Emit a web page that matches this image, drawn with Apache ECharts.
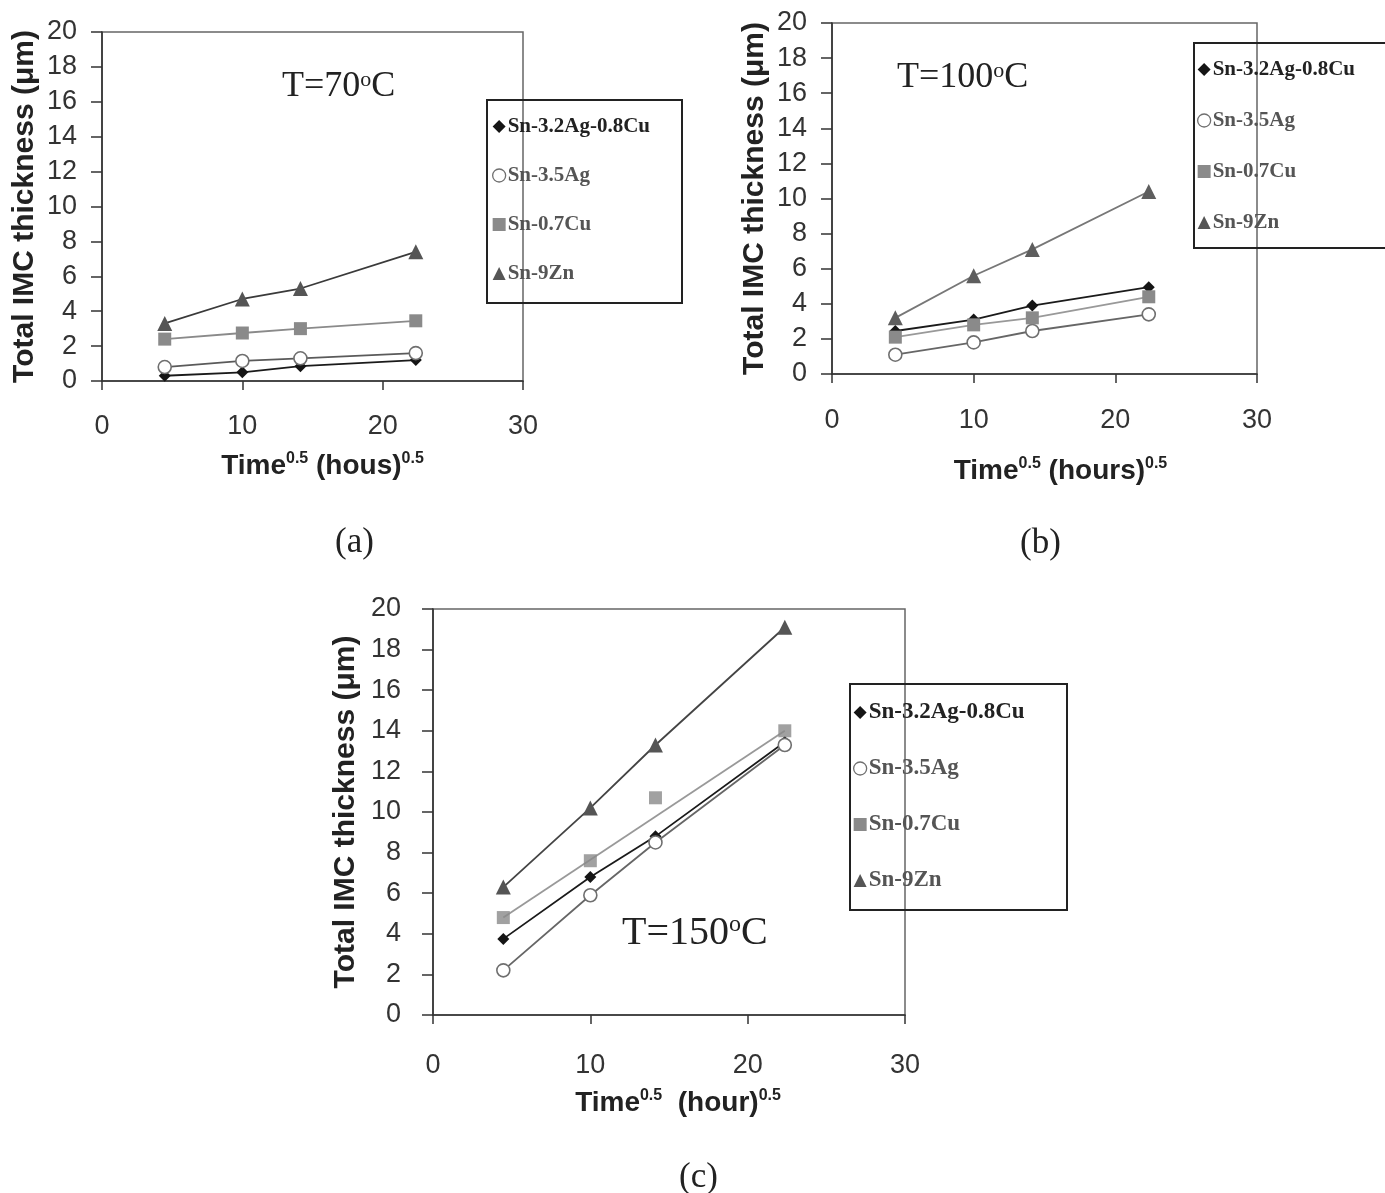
<!DOCTYPE html>
<html><head><meta charset="utf-8">
<script src="https://cdn.jsdelivr.net/npm/echarts@6/dist/echarts.min.js"></script>
<style>html,body{margin:0;padding:0;background:#fff}#c{width:1385px;height:1193px}</style>
</head><body><div id="c"></div>
<script>
// ---- data ----
const names = ['Sn-3.2Ag-0.8Cu', 'Sn-3.5Ag', 'Sn-0.7Cu', 'Sn-9Zn'];
const xVals = [4.47, 10, 14.14, 22.36];           // time^0.5 (hours^0.5)
const xTicks = [0, 10, 20, 30];
const yTicks = [0, 2, 4, 6, 8, 10, 12, 14, 16, 18, 20];

// (a) T=70C
const a_SAC  = [0.3, 0.5, 0.85, 1.2];
const a_SnAg = [0.8, 1.15, 1.3, 1.6];
const a_SnCu = [2.4, 2.75, 3.0, 3.45];
const a_SnZn = [3.3, 4.7, 5.3, 7.4];
// (b) T=100C
const b_SAC  = [2.45, 3.1, 3.9, 4.95];
const b_SnAg = [1.1, 1.8, 2.45, 3.4];
const b_SnCu = [2.1, 2.8, 3.2, 4.4];
const b_SnZn = [3.2, 5.6, 7.1, 10.4];
// (c) T=150C
const c_SAC  = [3.75, 6.8, 8.8, 13.45];
const c_SnAg = [2.2, 5.9, 8.5, 13.3];
const c_SnCu = [4.8, 7.6, 10.7, 14.0];
const c_SnZn = [6.3, 10.2, 13.3, 19.1];
// trend line drawn for Sn-0.7Cu in (c) (point at 14.14 lies off it)
const c_SnCu_lineX = [4.47, 22.36];
const c_SnCu_lineY = [4.8, 14.0];

// ---- helpers ----
const pairs = (xs, ys) => xs.map((x, i) => [x, ys[i]]);
const serif = 'Liberation Serif';
const sans = 'Liberation Sans';

const sty = {
  'Sn-3.2Ag-0.8Cu': {symbol: 'diamond', size: 12, color: '#151515', line: '#1a1a1a', border: null},
  'Sn-3.5Ag': {symbol: 'circle', size: 13, color: '#ffffff', line: '#5a5a5a', border: '#6f6f6f'},
  'Sn-0.7Cu': {symbol: 'rect', size: 13, color: '#8a8a8a', line: '#8a8a8a', border: null},
  'Sn-9Zn': {symbol: 'triangle', size: 15, color: '#555555', line: '#3a3a3a', border: null}
};

function lineSeries(name, gi, data, opts) {
  const s = sty[name];
  opts = opts || {};
  return {
    type: 'line', name: name, xAxisIndex: gi, yAxisIndex: gi,
    data: data, symbol: opts.noSymbol ? 'none' : s.symbol, symbolSize: s.size,
    showSymbol: !opts.noSymbol,
    lineStyle: {color: opts.lineColor || s.line, width: 1.8},
    itemStyle: {color: opts.markColor || s.color, borderColor: s.border || (opts.markColor || s.color), borderWidth: s.border ? 1.6 : 0},
    z: opts.z || 3, animation: false, silent: true
  };
}
function scatterSeries(name, gi, data, opts) {
  const s = sty[name];
  opts = opts || {};
  return {
    type: 'scatter', name: name, xAxisIndex: gi, yAxisIndex: gi,
    data: data, symbol: s.symbol, symbolSize: s.size,
    itemStyle: {color: opts.markColor || s.color, borderColor: s.border || (opts.markColor || s.color), borderWidth: s.border ? 1.6 : 0},
    z: 4, animation: false, silent: true
  };
}

const grids = [
  {left: 102, top: 32, width: 421, height: 349},
  {left: 832, top: 23, width: 425, height: 351},
  {left: 433, top: 609, width: 472, height: 406}
];
const xNames = [
  'Time{sup|0.5} (hous){sup|0.5}',
  'Time{sup|0.5} (hours){sup|0.5}',
  'Time{sup|0.5}  (hour){sup|0.5}'
];
const yNameGap = [62, 62, 72];
const xNameGap = [70, 82, 73];
const xNamePadL = [20, 32, 18];
const xLabelMargin = [32, 33, 37];
const yLabelMargin = [25, 25, 32];

const xAxes = grids.map((g, i) => ({
  type: 'value', gridIndex: i, min: xTicks[0], max: xTicks[xTicks.length - 1], interval: xTicks[1] - xTicks[0],
  name: xNames[i], nameLocation: 'middle', nameGap: xNameGap[i],
  nameTextStyle: {fontFamily: sans, fontWeight: 'bold', fontSize: 28, color: '#222', padding: [0, 0, 0, xNamePadL[i]],
    rich: {sup: {fontFamily: sans, fontWeight: 'bold', fontSize: 16, color: '#222', verticalAlign: 'top', padding: [0, 0, 14, 0]}}},
  axisLine: {show: true, lineStyle: {color: '#333', width: 1.6}},
  axisTick: {show: true, inside: false, length: 9, lineStyle: {color: '#333', width: 1.5}},
  axisLabel: {fontFamily: sans, fontSize: 27, color: '#333', margin: xLabelMargin[i]},
  splitLine: {show: false}
}));
const yAxes = grids.map((g, i) => ({
  type: 'value', gridIndex: i, min: yTicks[0], max: yTicks[yTicks.length - 1], interval: yTicks[1] - yTicks[0],
  name: 'Total IMC thickness (μm)', nameLocation: 'middle', nameGap: yNameGap[i], nameRotate: 90,
  nameTextStyle: {fontFamily: sans, fontWeight: 'bold', fontSize: 30, color: '#222'},
  axisLine: {show: true, lineStyle: {color: '#333', width: 1.6}},
  axisTick: {show: true, inside: false, length: 11, lineStyle: {color: '#333', width: 1.5}},
  axisLabel: {fontFamily: sans, fontSize: 27, color: '#333', margin: yLabelMargin[i]},
  splitLine: {show: false}
}));

const series = [
  // (a)
  lineSeries('Sn-3.2Ag-0.8Cu', 0, pairs(xVals, a_SAC)),
  lineSeries('Sn-3.5Ag', 0, pairs(xVals, a_SnAg)),
  lineSeries('Sn-0.7Cu', 0, pairs(xVals, a_SnCu)),
  lineSeries('Sn-9Zn', 0, pairs(xVals, a_SnZn)),
  // (b)
  lineSeries('Sn-3.2Ag-0.8Cu', 1, pairs(xVals, b_SAC)),
  lineSeries('Sn-3.5Ag', 1, pairs(xVals, b_SnAg), {lineColor: '#666'}),
  lineSeries('Sn-0.7Cu', 1, pairs(xVals, b_SnCu), {lineColor: '#999'}),
  lineSeries('Sn-9Zn', 1, pairs(xVals, b_SnZn), {lineColor: '#777', markColor: '#5e5e5e'}),
  // (c)
  lineSeries('Sn-3.2Ag-0.8Cu', 2, pairs(xVals, c_SAC)),
  lineSeries('Sn-3.5Ag', 2, pairs(xVals, c_SnAg), {lineColor: '#666'}),
  lineSeries('Sn-0.7Cu', 2, pairs(c_SnCu_lineX, c_SnCu_lineY), {noSymbol: true, lineColor: '#999'}),
  scatterSeries('Sn-0.7Cu', 2, pairs(xVals, c_SnCu)),
  lineSeries('Sn-9Zn', 2, pairs(xVals, c_SnZn), {lineColor: '#444'})
];

function legendData() {
  return names.map((n, i) => {
    const s = sty[n];
    return {
      name: n, icon: s.symbol,
      itemStyle: {color: s.color, borderColor: s.border || s.color, borderWidth: s.border ? 1.3 : 0},
      textStyle: {color: i === 0 ? '#222' : '#555'}
    };
  });
}
const legends = [
  {left: 492, top: 116, itemGap: 28, fs: 21},
  {left: 1197, top: 59, itemGap: 30, fs: 21},
  {left: 853, top: 701, itemGap: 33, fs: 23}
].map(l => ({
  orient: 'vertical', left: l.left, top: l.top, itemGap: l.itemGap,
  itemWidth: 13, itemHeight: 13, padding: 0, selectedMode: false,
  data: legendData(),
  textStyle: {fontFamily: serif, fontSize: l.fs, fontWeight: 'bold', padding: [0, 0, 0, -3]}
}));

const titles = [
  {text: 'T=70{sup|o}C', left: 282, top: 69, fs: 36, sup: 22},
  {text: 'T=100{sup|o}C', left: 897, top: 60, fs: 36, sup: 22},
  {text: 'T=150{sup|o}C', left: 622, top: 913, fs: 40, sup: 24},
  {text: '(a)', left: 335, top: 525, fs: 35, sup: 20},
  {text: '(b)', left: 1020, top: 526, fs: 35, sup: 20},
  {text: '(c)', left: 679, top: 1160, fs: 35, sup: 20}
].map(t => ({
  text: t.text, left: t.left, top: t.top, padding: 0,
  textStyle: {fontFamily: serif, fontWeight: 'normal', fontSize: t.fs, color: '#222',
    rich: {sup: {fontFamily: serif, fontSize: t.sup, color: '#222', verticalAlign: 'top', padding: [0, 0, Math.round(t.fs * 0.4), 0]}}}
}));

const chart = echarts.init(document.getElementById('c'), null, {renderer: 'canvas'});
chart.setOption({
  backgroundColor: '#fff',
  animation: false,
  title: titles,
  grid: grids.map(g => Object.assign({show: true, borderColor: '#666', borderWidth: 1.5, backgroundColor: '#fff', containLabel: false}, g)),
  xAxis: xAxes,
  yAxis: yAxes,
  legend: legends,
  graphic: [
    {type: 'rect', shape: {x: 487, y: 100, width: 195, height: 203}, style: {fill: 'rgba(0,0,0,0)', stroke: '#222', lineWidth: 2}, z: 10, silent: true},
    {type: 'rect', shape: {x: 1194, y: 43, width: 200, height: 205}, style: {fill: 'rgba(0,0,0,0)', stroke: '#222', lineWidth: 2}, z: 10, silent: true},
    {type: 'rect', shape: {x: 850, y: 684, width: 217, height: 226}, style: {fill: 'rgba(0,0,0,0)', stroke: '#222', lineWidth: 2}, z: 10, silent: true}
  ],
  series: series
});
</script>
</body></html>
